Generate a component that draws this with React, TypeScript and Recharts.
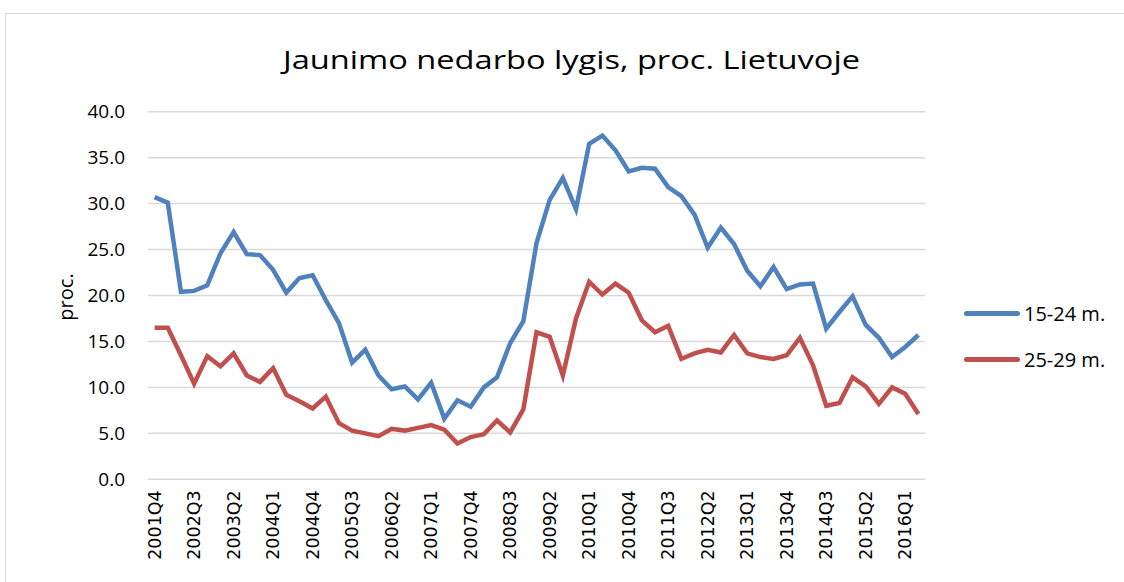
import React from "react";
import { LineChart, Line, XAxis, YAxis, CartesianGrid } from "recharts";

const quarters = [
  "2001Q4",
  "2002Q1", "2002Q2", "2002Q3", "2002Q4",
  "2003Q1", "2003Q2", "2003Q3", "2003Q4",
  "2004Q1", "2004Q2", "2004Q3", "2004Q4",
  "2005Q1", "2005Q2", "2005Q3", "2005Q4",
  "2006Q1", "2006Q2", "2006Q3", "2006Q4",
  "2007Q1", "2007Q2", "2007Q3", "2007Q4",
  "2008Q1", "2008Q2", "2008Q3", "2008Q4",
  "2009Q1", "2009Q2", "2009Q3", "2009Q4",
  "2010Q1", "2010Q2", "2010Q3", "2010Q4",
  "2011Q1", "2011Q2", "2011Q3", "2011Q4",
  "2012Q1", "2012Q2", "2012Q3", "2012Q4",
  "2013Q1", "2013Q2", "2013Q3", "2013Q4",
  "2014Q1", "2014Q2", "2014Q3", "2014Q4",
  "2015Q1", "2015Q2", "2015Q3", "2015Q4",
  "2016Q1", "2016Q2",
];

const age15to24 = [
  30.7, 30.1, 20.4, 20.5, 21.1, 24.6, 26.9, 24.5, 24.4, 22.8,
  20.3, 21.9, 22.2, 19.5, 17.0, 12.7, 14.1, 11.3, 9.8, 10.1,
  8.7, 10.5, 6.6, 8.6, 7.9, 10.0, 11.1, 14.8, 17.2, 25.7,
  30.4, 32.8, 29.4, 36.5, 37.4, 35.8, 33.5, 33.9, 33.8, 31.8,
  30.8, 28.8, 25.2, 27.4, 25.6, 22.7, 21.0, 23.1, 20.7, 21.2,
  21.3, 16.4, 18.2, 19.9, 16.8, 15.4, 13.3, 14.4, 15.7,
];

const age25to29 = [
  16.5, 16.5, 13.5, 10.4, 13.4, 12.3, 13.7, 11.3, 10.6, 12.1,
  9.2, 8.5, 7.7, 9.0, 6.1, 5.3, 5.0, 4.7, 5.5, 5.3,
  5.6, 5.9, 5.4, 3.9, 4.6, 4.9, 6.4, 5.1, 7.6, 16.0,
  15.5, 11.3, 17.5, 21.5, 20.1, 21.3, 20.3, 17.3, 16.0, 16.7,
  13.1, 13.7, 14.1, 13.8, 15.7, 13.7, 13.3, 13.1, 13.5, 15.4,
  12.4, 8.0, 8.3, 11.1, 10.1, 8.2, 10.0, 9.3, 7.1,
];

const yTicks = [0, 5, 10, 15, 20, 25, 30, 35, 40];

const seriesNames = ["15-24 m.", "25-29 m."];
const colors = ["#4f81bd", "#c0504d"];

const chartData = quarters.map((q, i) => ({
  q,
  a: age15to24[i],
  b: age25to29[i],
}));

const sansFont = "'Open Sans', 'Noto Sans', sans-serif";

function QuarterTick({ x, y, payload }: any) {
  const ty = y + 11;
  return (
    <text
      x={x}
      y={ty}
      transform={`rotate(-90 ${x} ${ty})`}
      textAnchor="end"
      dominantBaseline="central"
      fontFamily="'DejaVu Sans', sans-serif"
      fontSize={17.5}
      fill="#000"
    >
      {payload.value}
    </text>
  );
}

function LegendBox() {
  return (
    <div
      style={{
        position: "absolute",
        left: 964,
        top: 290,
        fontFamily: sansFont,
        fontSize: 20,
        color: "#000",
      }}
    >
      {seriesNames.map((name, i) => (
        <div
          key={name}
          style={{ display: "flex", alignItems: "center", height: 46 }}
        >
          <div
            style={{
              width: 56,
              height: 5,
              borderRadius: 3,
              background: colors[i],
              marginRight: 4,
            }}
          />
          <span>{name}</span>
        </div>
      ))}
    </div>
  );
}

export default function App() {
  return (
    <div
      style={{
        position: "absolute",
        left: 0,
        top: 0,
        width: 1124,
        height: 582,
        background: "#fff",
        overflow: "hidden",
      }}
    >
      <div
        style={{
          position: "absolute",
          left: 5,
          top: 13,
          width: 1200,
          height: 700,
          border: "1.5px solid #d9d9d9",
        }}
      />
      <svg
        width={1124}
        height={100}
        style={{ position: "absolute", left: 0, top: 0 }}
      >
        <text
          x={571.5}
          y={69}
          textAnchor="middle"
          textLength={577}
          lengthAdjust="spacingAndGlyphs"
          fontFamily={sansFont}
          fontSize={26}
          fill="#000"
        >
          Jaunimo nedarbo lygis, proc. Lietuvoje
        </text>
      </svg>
      <div
        style={{
          position: "absolute",
          left: 65,
          top: 297,
          transform: "translate(-50%, -50%) rotate(-90deg)",
          fontFamily: sansFont,
          fontSize: 20,
          color: "#000",
          whiteSpace: "nowrap",
        }}
      >
        proc.
      </div>
      <LineChart
        width={1124}
        height={582}
        data={chartData}
        margin={{ top: 111.7, right: 199, bottom: 0, left: 0 }}
        style={{ position: "absolute", left: 0, top: 0 }}
      >
        <CartesianGrid
          vertical={false}
          stroke="#d9d9d9"
          strokeWidth={1.5}
        />
        <XAxis
          dataKey="q"
          interval={2}
          height={102.7}
          axisLine={false}
          tickLine={false}
          tickSize={0}
          tickMargin={0}
          padding={{ left: 6.6, right: 6.6 }}
          tick={<QuarterTick />}
        />
        <YAxis
          width={148}
          domain={[0, 40]}
          ticks={yTicks}
          interval={0}
          axisLine={false}
          tickLine={false}
          tickSize={0}
          tickMargin={23}
          tickFormatter={(v: number) => v.toFixed(1)}
          tick={{ fontFamily: sansFont, fontSize: 19, fill: "#000" }}
        />
        <Line
          dataKey="a"
          name={seriesNames[0]}
          stroke={colors[0]}
          strokeWidth={4.5}
          dot={false}
          isAnimationActive={false}
        />
        <Line
          dataKey="b"
          name={seriesNames[1]}
          stroke={colors[1]}
          strokeWidth={4.5}
          dot={false}
          isAnimationActive={false}
        />
      </LineChart>
      <LegendBox />
    </div>
  );
}
